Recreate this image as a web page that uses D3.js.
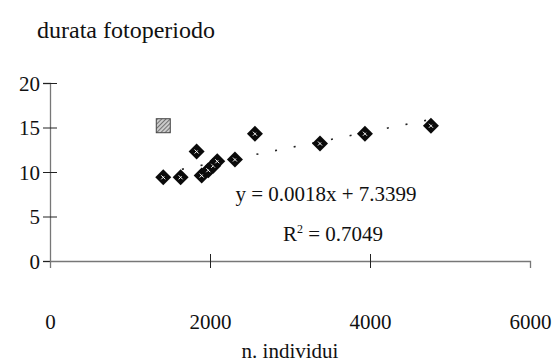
<!DOCTYPE html>
<html><head><meta charset="utf-8">
<script src="https://cdn.jsdelivr.net/npm/d3@7"></script>
<style>body{margin:0;background:#fff}svg{display:block}text{font-family:"Liberation Serif","DejaVu Serif",serif;fill:#111}</style>
</head><body>
<svg id="c" width="553" height="362"></svg>
<script>
const title = "durata fotoperiodo";
const xTitle = "n. individui";
const xTicks = [0, 2000, 4000, 6000];
const yTicks = [0, 5, 10, 15, 20];
const diamondX = [1416, 1633, 1833, 1896, 1979, 2041, 2091, 2312, 2562, 3375, 3937, 4762];
const diamondY = [9.4, 9.4, 12.3, 9.6, 10.2, 10.7, 11.2, 11.4, 14.3, 13.2, 14.3, 15.2];
const squareX = [1416];
const squareY = [15.2];
const slope = 0.0018, intercept = 7.3399;
const eqLabel = "y = 0.0018x + 7.3399";
const r2Value = "0.7049";

const svg = d3.select("#c");
const defs = svg.append("defs");
const pat = defs.append("pattern").attr("id", "hatch").attr("width", 3).attr("height", 3)
  .attr("patternUnits", "userSpaceOnUse").attr("patternTransform", "rotate(45)");
pat.append("rect").attr("width", 3).attr("height", 3).attr("fill", "#ccc");
pat.append("line").attr("x1", 0).attr("y1", 0).attr("x2", 0).attr("y2", 3).attr("stroke", "#555").attr("stroke-width", 1.5);

const x = d3.scaleLinear().domain([0, 6000]).range([50, 530]);
const y = d3.scaleLinear().domain([0, 20]).range([261, 83]);

svg.append("text").attr("x", 37).attr("y", 38).attr("font-size", 24).text(title);

// axes
const yAxis = d3.axisLeft(y).tickValues(yTicks).tickSize(7).tickPadding(3).tickFormat(d3.format("d"));
const gy = svg.append("g").attr("transform", `translate(${x(0)},0)`).call(yAxis);
gy.select(".domain").attr("stroke", "#777").attr("stroke-width", 1.3);
gy.selectAll(".tick line").attr("x2", 7).attr("x1", -7).attr("stroke", "#222");
gy.selectAll(".tick text").attr("font-size", 21).attr("font-family", "Liberation Serif").attr("fill", "#111").attr("dy", "0.35em");

const xAxis = d3.axisBottom(x).tickValues(xTicks).tickSize(7).tickPadding(46).tickFormat(d3.format("d"));
const gx = svg.append("g").attr("transform", `translate(0,${y(0)})`).call(xAxis);
gx.select(".domain").attr("stroke", "#777").attr("stroke-width", 1.3);
gx.selectAll(".tick line").attr("y1", -7).attr("y2", 7).attr("stroke", "#222");
gx.selectAll(".tick").filter(d => d === 0 || d === 6000).select("line").attr("stroke", "none");
gx.selectAll(".tick text").attr("font-size", 21).attr("font-family", "Liberation Serif").attr("fill", "#111");

svg.append("text").attr("x", 290).attr("y", 358).attr("text-anchor", "middle").attr("font-size", 21).text(xTitle);

// trendline
const tx = d3.extent(diamondX);
svg.append("line")
  .attr("x1", x(tx[0])).attr("y1", y(slope * tx[0] + intercept))
  .attr("x2", x(tx[1])).attr("y2", y(slope * tx[1] + intercept))
  .attr("stroke", "#222").attr("stroke-width", 1.6).attr("stroke-dasharray", "2,17");

// markers
const pts = diamondX.map((d, i) => [d, diamondY[i]]);
const dg = svg.append("g").selectAll("g").data(pts).join("g")
  .attr("transform", d => `translate(${x(d[0])},${y(d[1])})`);
dg.append("path").attr("d", "M0,-8L8,0L0,8L-8,0Z").attr("fill", "#0a0a0a");
dg.append("path").attr("d", "M-2,-2L2,2M-2,2L1,-1").attr("stroke", "#fff").attr("stroke-width", 1);

const sq = squareX.map((d, i) => [d, squareY[i]]);
svg.append("g").selectAll("rect").data(sq).join("rect")
  .attr("x", d => x(d[0]) - 7).attr("y", d => y(d[1]) - 7)
  .attr("width", 14).attr("height", 14)
  .attr("fill", "url(#hatch)").attr("stroke", "#444").attr("stroke-width", 1);

svg.append("text").attr("x", 326).attr("y", 201).attr("text-anchor", "middle").attr("font-size", 21).text(eqLabel);
const r2 = svg.append("text").attr("x", 333).attr("y", 241).attr("text-anchor", "middle").attr("font-size", 21);
r2.append("tspan").text("R");
r2.append("tspan").attr("dy", -8).attr("font-size", 12).text("2");
r2.append("tspan").attr("dy", 8).text(" = " + r2Value);
</script>
</body></html>
